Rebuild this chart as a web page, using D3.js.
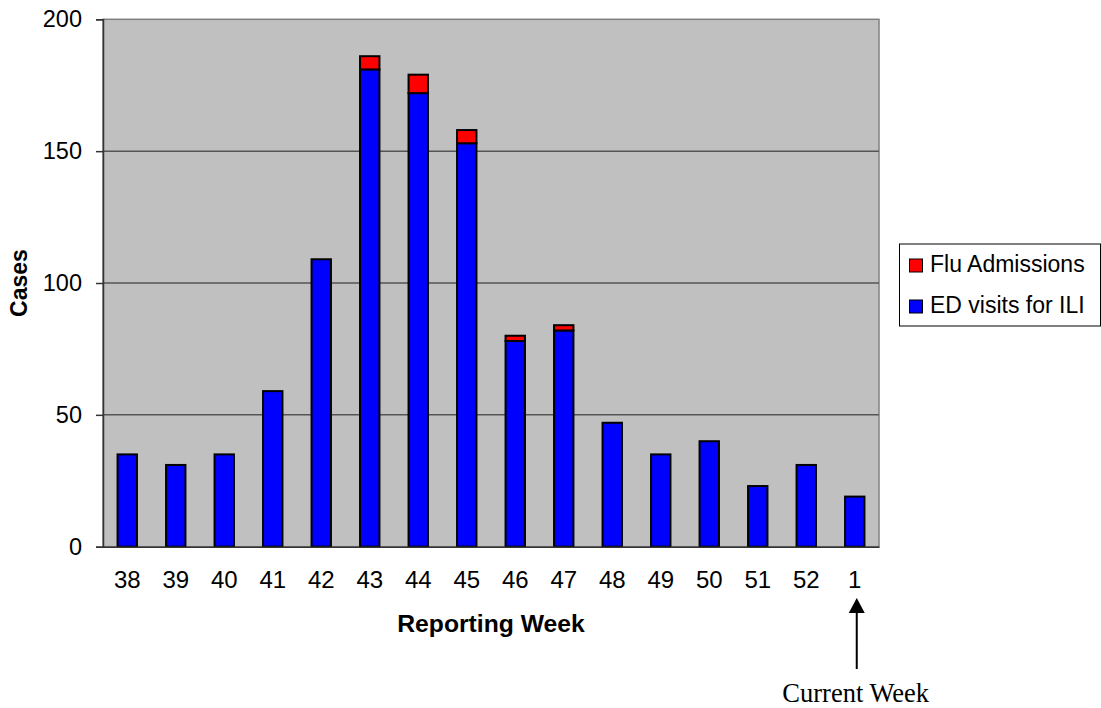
<!DOCTYPE html>
<html><head><meta charset="utf-8">
<script src="https://cdn.jsdelivr.net/npm/d3@7"></script>
<style>body{margin:0;background:#fff;} svg{display:block;}</style>
</head><body>
<script>
const weeks = ["38","39","40","41","42","43","44","45","46","47","48","49","50","51","52","1"];
const edVisits = [35,31,35,59,109,181,172,153,78,82,47,35,40,23,31,19];
const fluAdmissions = [0,0,0,0,0,5,7,5,2,2,0,0,0,0,0,0];
const yTicks = [0,50,100,150,200];
const seriesNames = ["ED visits for ILI","Flu Admissions"];
const seriesColors = ["#0000FF","#FF0000"];

const W=1101,H=708;
const L=103,R=879,T=19.3,B=546.7;
const svg=d3.select("body").append("svg").attr("width",W).attr("height",H);

const x=d3.scaleBand().domain(weeks).range([L,R]).paddingInner(0.6).paddingOuter(0.3);
const y=d3.scaleLinear().domain([0,200]).range([B,T]);

svg.append("rect").attr("x",L).attr("y",T).attr("width",R-L).attr("height",B-T)
  .attr("fill","#C0C0C0").attr("stroke","#808080").attr("stroke-width",1.5);

svg.append("g").selectAll("line").data(yTicks.filter(d=>d>0&&d<200)).join("line")
  .attr("x1",L).attr("x2",R).attr("y1",d=>y(d)).attr("y2",d=>y(d))
  .attr("stroke","#555").attr("stroke-width",1.5);

const data=weeks.map((w,i)=>({w,ed:edVisits[i],flu:fluAdmissions[i]}));
const stack=d3.stack().keys(["ed","flu"])(data);
svg.append("g").selectAll("g").data(stack).join("g")
  .attr("fill",(d,i)=>seriesColors[i])
  .selectAll("rect").data(d=>d.filter(p=>p[1]-p[0]>0)).join("rect")
  .attr("x",d=>x(d.data.w)).attr("width",x.bandwidth())
  .attr("y",d=>y(d[1])).attr("height",d=>y(d[0])-y(d[1]))
  .attr("stroke","#000").attr("stroke-width",2);

// axes
const ya=svg.append("g").attr("transform",`translate(${L},0)`)
  .call(d3.axisLeft(y).tickValues(yTicks).tickSize(7).tickPadding(14));
ya.select(".domain").attr("stroke","#333").attr("stroke-width",1.5);
ya.selectAll(".tick line").attr("stroke","#333").attr("stroke-width",1.5);
ya.selectAll("text").attr("font-family","Liberation Sans, Arial").attr("font-size",23.5).attr("fill","#000");

const xa=svg.append("g").attr("transform",`translate(0,${B})`)
  .call(d3.axisBottom(x).tickSize(0).tickPadding(24));
xa.select(".domain").attr("stroke","#333").attr("stroke-width",1.5);
xa.selectAll("text").attr("font-family","Liberation Sans, Arial").attr("font-size",24).attr("fill","#000");

svg.append("text").attr("x",491).attr("y",632).attr("text-anchor","middle")
  .attr("font-family","Liberation Sans, Arial").attr("font-weight","bold").attr("font-size",24.7)
  .text("Reporting Week");
svg.append("text").attr("transform",`translate(27,${(T+B)/2}) rotate(-90)`).attr("text-anchor","middle")
  .attr("font-family","Liberation Sans, Arial").attr("font-weight","bold").attr("font-size",23)
  .text("Cases");

// legend
const lg=svg.append("g");
lg.append("rect").attr("x",899.5).attr("y",244).attr("width",201).attr("height",82)
  .attr("fill","#fff").attr("stroke","#000").attr("stroke-width",1);
const legendItems=[{name:seriesNames[1],color:seriesColors[1]},{name:seriesNames[0],color:seriesColors[0]}];
legendItems.forEach((d,i)=>{
  const yy=259+i*41;
  lg.append("rect").attr("x",909.5).attr("y",yy).attr("width",13).attr("height",13)
    .attr("fill",d.color).attr("stroke","#000").attr("stroke-width",1);
  lg.append("text").attr("x",930).attr("y",yy+13).attr("font-family","Liberation Sans, Arial")
    .attr("font-size",23).text(d.name);
});

// current week arrow
const ax=x("1")+x.bandwidth()/2+2;
svg.append("line").attr("x1",ax).attr("x2",ax).attr("y1",669).attr("y2",608)
  .attr("stroke","#000").attr("stroke-width",2);
svg.append("path").attr("d",`M${ax},598 L${ax-8},613 L${ax+8},613 Z`).attr("fill","#000");
svg.append("text").attr("x",ax-1).attr("y",702).attr("text-anchor","middle")
  .attr("font-family","Liberation Serif, Times New Roman").attr("font-size",26.5).text("Current Week");
</script>
</body></html>
